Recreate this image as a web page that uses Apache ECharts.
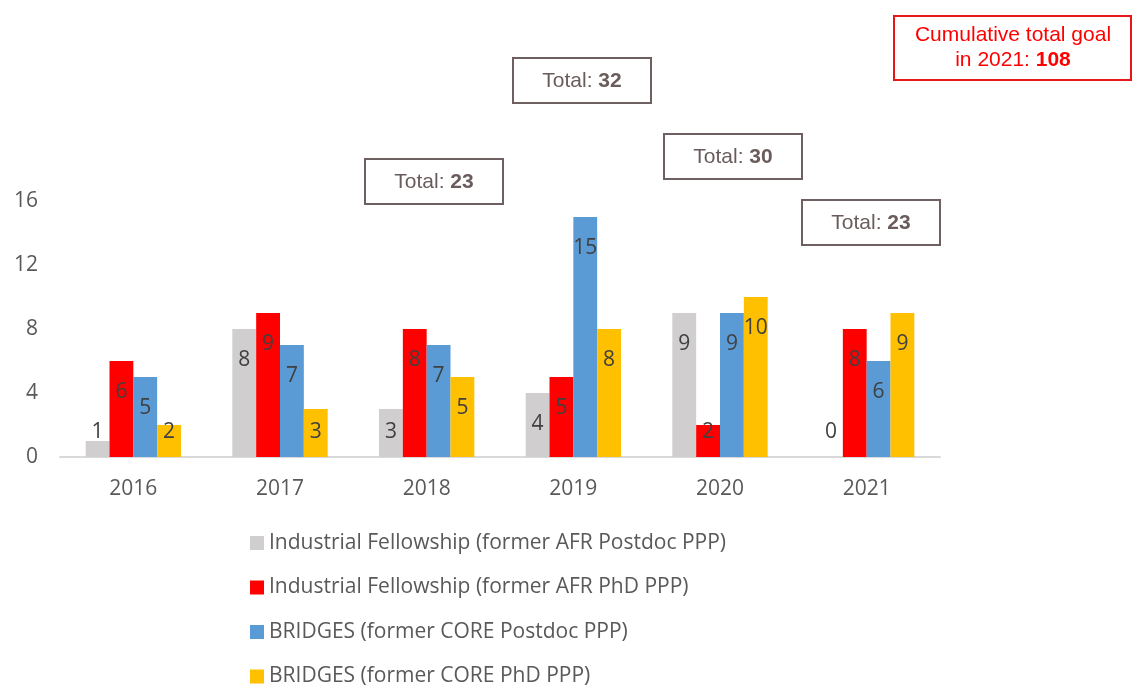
<!DOCTYPE html>
<html>
<head>
<meta charset="utf-8">
<script src="https://cdn.jsdelivr.net/npm/echarts@6/dist/echarts.min.js"></script>
<style>
  html, body { margin: 0; padding: 0; background: #fff; }
  #chart { width: 1137px; height: 687px; }
</style>
</head>
<body>
<div id="chart"></div>
<script>
const years = ['2016', '2017', '2018', '2019', '2020', '2021']
const afrPostdoc = [1, 8, 3, 4, 9, 0]
const afrPhd = [6, 9, 8, 5, 2, 8]
const corePostdoc = [5, 7, 7, 15, 9, 6]
const corePhd = [2, 3, 5, 8, 10, 9]
const yTicks = [0, 4, 8, 12, 16]
const goalText = ['Cumulative total goal', 'in 2021: ', '108']

const seriesNames = [
  'Industrial Fellowship (former AFR Postdoc PPP)',
  'Industrial Fellowship (former AFR PhD PPP)',
  'BRIDGES (former CORE Postdoc PPP)',
  'BRIDGES (former CORE PhD PPP)'
]
const colors = ['#D0CECE', '#FF0000', '#5B9BD5', '#FFC000']
const font = '"Open Sans", sans-serif'
const boxFont = '"Liberation Sans", Arial'

const chart = echarts.init(document.getElementById('chart'))

// short bars get their label pushed up from the baseline, like Excel does
const toData = (arr) => arr.map(v => ({
  value: v,
  label: v <= 3
    ? { position: 'insideBottom', distance: 14 }
    : { position: 'insideTop', distance: 21 }
}))

const makeSeries = (name, arr, i) => ({
  name: name,
  type: 'bar',
  barGap: '0%',
  barCategoryGap: '35%',
  itemStyle: { color: colors[i] },
  label: {
    show: true,
    color: '#404040',
    fontFamily: font,
    fontSize: 21
  },
  data: toData(arr)
})

// totals per year (only 2018-2021 are annotated in the original)
const totals = years.map((y, i) => afrPostdoc[i] + afrPhd[i] + corePostdoc[i] + corePhd[i])
const boxes = [
  { idx: 2, x: 364, y: 158 },
  { idx: 3, x: 512, y: 57 },
  { idx: 4, x: 663, y: 133 },
  { idx: 5, x: 801, y: 199 }
]

const totalBox = (b) => ({
  type: 'group',
  left: b.x,
  top: b.y,
  children: [
    {
      type: 'rect',
      shape: { x: 0, y: 0, width: 138, height: 45 },
      style: { fill: '#fff', stroke: '#6e6060', lineWidth: 2 }
    },
    {
      type: 'text',
      x: 69,
      y: 23,
      style: {
        text: '{n|Total: }{b|' + totals[b.idx] + '}',
        align: 'center',
        verticalAlign: 'middle',
        rich: {
          n: { fontFamily: boxFont, fontSize: 21, fill: '#6a5c5c', color: '#6a5c5c' },
          b: { fontFamily: boxFont, fontSize: 21, fontWeight: 'bold', fill: '#6a5c5c', color: '#6a5c5c' }
        }
      }
    }
  ]
})

const option = {
  animation: false,
  color: colors,
  grid: {
    left: 60,
    right: 197,
    top: 201,
    bottom: 230
  },
  legend: {
    orient: 'vertical',
    left: 245,
    top: 527,
    height: 160,
    icon: 'rect',
    itemWidth: 14,
    itemHeight: 14,
    itemGap: 22.5,
    textStyle: {
      color: '#595959',
      fontFamily: font,
      fontSize: 21,
      lineHeight: 22
    },
    data: seriesNames
  },
  xAxis: {
    type: 'category',
    data: years,
    axisLine: { lineStyle: { color: '#D9D9D9', width: 2 } },
    axisTick: { show: false },
    axisLabel: {
      color: '#595959',
      fontFamily: font,
      fontSize: 21,
      margin: 22
    }
  },
  yAxis: {
    type: 'value',
    min: yTicks[0],
    max: yTicks[yTicks.length - 1],
    interval: yTicks[1] - yTicks[0],
    axisLine: { show: false },
    axisTick: { show: false },
    splitLine: { show: false },
    axisLabel: {
      color: '#595959',
      fontFamily: font,
      fontSize: 21,
      margin: 22
    }
  },
  series: [
    makeSeries(seriesNames[0], afrPostdoc, 0),
    makeSeries(seriesNames[1], afrPhd, 1),
    makeSeries(seriesNames[2], corePostdoc, 2),
    makeSeries(seriesNames[3], corePhd, 3)
  ],
  graphic: boxes.map(totalBox).concat([
    {
      type: 'group',
      left: 893,
      top: 15,
      children: [
        {
          type: 'rect',
          shape: { x: 0, y: 0, width: 237, height: 64 },
          style: { fill: '#fff', stroke: '#E8161B', lineWidth: 2 }
        },
        {
          type: 'text',
          x: 119,
          y: 32,
          style: {
            text: '{n|' + goalText[0] + '}\n{n|' + goalText[1] + '}{b|' + goalText[2] + '}',
            align: 'center',
            verticalAlign: 'middle',
            rich: {
              n: { fontFamily: boxFont, fontSize: 21, lineHeight: 25, color: '#FF0000', fill: '#FF0000' },
              b: { fontFamily: boxFont, fontSize: 21, lineHeight: 25, fontWeight: 'bold', color: '#FF0000', fill: '#FF0000' }
            }
          }
        }
      ]
    }
  ])
}

chart.setOption(option)

window.addEventListener('resize', () => {
  chart && chart.resize()
})
</script>
</body>
</html>
